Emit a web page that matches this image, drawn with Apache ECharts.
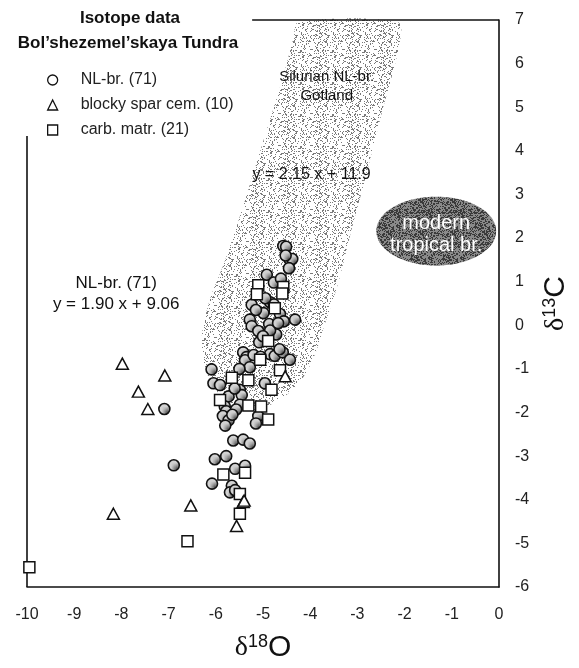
<!DOCTYPE html>
<html><head><meta charset="utf-8">
<script src="https://cdn.jsdelivr.net/npm/echarts@6/dist/echarts.min.js"></script>
<style>html,body{margin:0;padding:0;background:#fff}#c{width:579px;height:668px}</style>
</head><body><div id="c"></div>
<script>
// ---------------- data ----------------
const xTickValues = [-10,-9,-8,-7,-6,-5,-4,-3,-2,-1,0];
const yTickValues = [-6,-5,-4,-3,-2,-1,0,1,2,3,4,5,6,7];

const nlBr = [
  [-4.57,1.82],[-4.51,1.80],[-4.43,1.50],[-4.38,1.52],[-4.45,1.31],[-4.92,1.16],[-4.77,0.98],[-4.62,1.07],
  [-5.24,0.47],[-4.99,0.28],[-4.85,0.53],[-4.77,0.48],[-4.64,0.26],[-4.32,0.13],[-4.56,0.09],[-5.28,0.13],
  [-5.24,-0.02],[-5.10,-0.13],[-4.87,0.03],[-4.72,-0.21],[-4.85,-0.12],[-5.08,-0.39],[-5.42,-0.62],[-5.35,-0.73],
  [-5.38,-0.80],[-4.85,-0.66],[-4.75,-0.70],[-4.58,-0.62],[-4.43,-0.79],[-5.28,-0.96],[-5.50,-1.00],[-6.09,-1.01],
  [-6.05,-1.33],[-5.91,-1.37],[-4.96,-1.33],[-5.49,-1.48],[-5.45,-1.60],[-5.73,-1.63],[-5.81,-1.86],[-5.78,-1.97],
  [-5.49,-1.82],[-5.57,-1.93],[-5.10,-2.08],[-5.75,-2.12],[-5.85,-2.08],[-5.73,-2.18],[-5.80,-2.30],[-5.15,-2.25],
  [-5.63,-2.64],[-5.42,-2.62],[-5.28,-2.71],[-6.02,-3.07],[-5.78,-3.00],[-5.59,-3.29],[-5.38,-3.22],[-6.08,-3.63],
  [-5.66,-3.68],[-5.70,-3.83],[-5.59,-3.78],[-7.09,-1.92],[-6.89,-3.21],[-4.95,0.62],[-5.15,0.35],[-4.68,0.05],
  [-5.00,-0.25],[-4.65,-0.55],[-5.20,-0.68],[-5.05,-0.72],[-4.52,1.60],[-5.60,-1.45],[-5.65,-2.05]
];
const blockySpar = [
  [-7.98,-0.88],[-7.08,-1.15],[-7.64,-1.52],[-7.44,-1.92],[-8.17,-4.32],
  [-6.53,-4.13],[-5.42,-4.05],[-5.56,-4.60],[-4.53,-1.17],[-5.40,-4.02]
];
const carbMatr = [
  [-5.10,0.92],[-4.57,0.88],[-5.13,0.71],[-4.59,0.73],[-4.75,0.39],[-4.89,-0.36],[-5.06,-0.79],
  [-4.64,-1.03],[-5.66,-1.20],[-5.31,-1.26],[-4.82,-1.48],[-5.91,-1.71],[-5.31,-1.84],[-5.04,-1.86],
  [-4.89,-2.16],[-5.84,-3.42],[-5.38,-3.38],[-5.49,-3.87],[-5.49,-4.32],[-6.60,-4.95],[-9.95,-5.55]
];
// Silurian NL-brachiopod field (Gotland), outline in data units
const silurianField = [
  [-4.25,6.95],[-2.15,6.95],[-2.1,6.5],[-2.5,4.8],[-2.85,3.3],[-3.1,2.3],[-3.4,1.0],[-3.7,0],
  [-3.95,-0.8],[-4.3,-1.4],[-4.8,-1.8],[-5.3,-1.95],[-5.8,-1.7],[-6.15,-1.2],[-6.3,-0.4],
  [-6.15,0.5],[-5.8,1.5],[-5.4,2.8],[-5.0,4.2],[-4.6,5.6],[-4.35,6.6]
];
// modern tropical brachiopod field: centre and half-axes in data units
const tropicalCenter = [-1.33, 2.16];
const tropicalRadii = [1.27, 0.79];
// partial frame lines
const topFrame = [[-5.23,7],[0,7]];
const leftFrame = [[-10,4.34],[-10,-6]];

const legendNames = ['NL-br. (71)','blocky spar cem. (10)','carb. matr. (21)'];
const annotations = [
  {text:'Silurian NL-br.', at:[-3.65,5.69], size:15, color:'#111'},
  {text:'Gotland', at:[-3.65,5.27], size:15, color:'#111'},
  {text:'y = 2.15 x + 11.9', at:[-3.97,3.46], size:16, color:'#111'},
  {text:'NL-br. (71)', at:[-8.11,0.96], size:17, color:'#111'},
  {text:'y = 1.90 x + 9.06', at:[-8.11,0.47], size:17, color:'#111'},
  {text:'modern', at:[-1.33,2.34], size:20, color:'#fff'},
  {text:'tropical br.', at:[-1.33,1.82], size:20, color:'#fff'}
];

// ---------------- styles ----------------
function hash2(i, j){
  let h = (Math.imul(i, 374761393) + Math.imul(j, 668265263)) | 0;
  h = Math.imul(h ^ (h >>> 13), 1274126177);
  h = h ^ (h >>> 16);
  return (h >>> 0) % 1000;
}
function stipple(size, bg, dot, frac){
  const c = document.createElement('canvas'); c.width = size; c.height = size;
  const g = c.getContext('2d'); g.fillStyle = bg; g.fillRect(0,0,size,size);
  g.fillStyle = dot;
  for (let i = 0; i < size; i++) for (let j = 0; j < size; j++) {
    if (hash2(i, j) < frac * 1000) g.fillRect(i, j, 1, 1);
  }
  return {image: c, repeat: 'repeat'};
}
const lightStipple = stipple(32, '#ffffff', '#7a7a7a', 0.22);
const darkStipple = stipple(32, '#8a8a8a', '#3a3a3a', 0.45);
const circleFill = stipple(16, '#d2d2d2', '#5a5a5a', 0.3);

const chart = echarts.init(document.getElementById('c'), null, {renderer:'canvas'});
const FONT = 'Liberation Sans, Arial, Helvetica, sans-serif';
const nameRich = {
  d:{fontFamily:'Liberation Serif, DejaVu Serif, serif', fontSize:28, color:'#111'},
  s:{fontFamily:FONT, fontSize:18, color:'#111', verticalAlign:'top', padding:[0,0,10,0]},
  o:{fontFamily:FONT, fontSize:30, color:'#111'}
};

const option = {
  backgroundColor:'#fff',
  animation:false,
  textStyle:{fontFamily:FONT},
  grid:{left:27, right:80, top:20, bottom:71, containLabel:false},
  xAxis:{
    type:'value', min:-10, max:0, interval:1,
    axisLine:{show:true, onZero:false, lineStyle:{color:'#111', width:1.6}},
    axisTick:{show:false}, splitLine:{show:false},
    axisLabel:{fontSize:16, color:'#222', margin:20, fontFamily:FONT,
      formatter:v => xTickValues.includes(v) ? String(v) : ''},
    name:'{d|δ}{s|18}{o|O}', nameLocation:'middle', nameGap:46,
    nameTextStyle:{rich:nameRich}
  },
  yAxis:{
    type:'value', min:-6, max:7, interval:1, position:'right',
    axisLine:{show:true, onZero:false, lineStyle:{color:'#111', width:1.6}},
    axisTick:{show:false}, splitLine:{show:false},
    axisLabel:{fontSize:16, color:'#222', margin:16, fontFamily:FONT,
      formatter:v => yTickValues.includes(v) ? String(v) : ''},
    name:'{d|δ}{s|13}{o|C}', nameLocation:'middle', nameGap:42, nameRotate:90,
    nameTextStyle:{rich:nameRich}
  },
  legend:{
    orient:'vertical', left:42, top:67, itemWidth:10, itemHeight:10, itemGap:9,
    textStyle:{fontSize:16, color:'#222', fontFamily:FONT, padding:[0,0,0,18]},
    data:[
      {name:legendNames[0], icon:'circle', itemStyle:{color:'#fff', borderColor:'#111', borderWidth:1.3}},
      {name:legendNames[1], icon:'triangle', itemStyle:{color:'#fff', borderColor:'#111', borderWidth:1.3}},
      {name:legendNames[2], icon:'rect', itemStyle:{color:'#fff', borderColor:'#111', borderWidth:1.3}}
    ],
    selectedMode:false
  },
  graphic:[
    {type:'text', x:130, y:18, style:{text:'Isotope data', font:'bold 17px ' + FONT, fill:'#111', textAlign:'center', textVerticalAlign:'middle'}},
    {type:'text', x:128, y:43, style:{text:'Bol\u2019shezemel\u2019skaya Tundra', font:'bold 17px ' + FONT, fill:'#111', textAlign:'center', textVerticalAlign:'middle'}}
  ],
  series:[
    {
      type:'custom', name:'silurian', silent:true, z:1,
      data:[0],
      renderItem:(params, api) => ({
        type:'polygon',
        shape:{points: silurianField.map(p => api.coord(p)), smooth:0.35},
        style:{fill: lightStipple, stroke:null}
      })
    },
    {
      type:'custom', name:'tropical', silent:true, z:1,
      data:[0],
      renderItem:(params, api) => {
        const c = api.coord(tropicalCenter);
        const rx = api.coord([tropicalCenter[0]+tropicalRadii[0], tropicalCenter[1]])[0] - c[0];
        const ry = c[1] - api.coord([tropicalCenter[0], tropicalCenter[1]+tropicalRadii[1]])[1];
        const pts = [];
        for (let i = 0; i < 72; i++) { const a = i/72*Math.PI*2; pts.push([c[0]+rx*Math.cos(a), c[1]+ry*Math.sin(a)]); }
        return {type:'polygon', shape:{points:pts}, style:{fill: darkStipple, stroke:null}};
      }
    },
    {
      type:'line', name:'frameTop', data:topFrame, symbol:'none', silent:true, clip:false,
      lineStyle:{color:'#111', width:1.6}, z:3
    },
    {
      type:'line', name:'frameLeft', data:leftFrame, symbol:'none', silent:true, clip:false,
      lineStyle:{color:'#111', width:1.6}, z:3
    },
    {
      type:'scatter', name:legendNames[0], data:nlBr, symbol:'circle', symbolSize:11, z:5,
      itemStyle:{color:circleFill, borderColor:'#111', borderWidth:1.6, opacity:1}
    },
    {
      type:'scatter', name:legendNames[2], data:carbMatr, symbol:'rect', symbolSize:11, z:6,
      itemStyle:{color:'#fff', borderColor:'#111', borderWidth:1.5, opacity:1}
    },
    {
      type:'scatter', name:legendNames[1], data:blockySpar, symbol:'triangle', symbolSize:[12,11], z:7,
      itemStyle:{color:'#fff', borderColor:'#111', borderWidth:1.5, opacity:1}
    },
    {
      type:'custom', name:'annotations', silent:true, z:8,
      data: annotations.map((a,i) => i),
      renderItem:(params, api) => {
        const a = annotations[params.dataIndex];
        const p = api.coord(a.at);
        return {type:'text', x:p[0], y:p[1], style:{text:a.text, fill:a.color,
          font:'normal ' + a.size + 'px ' + FONT, textAlign:'center', textVerticalAlign:'middle'}};
      }
    }
  ]
};
chart.setOption(option);
</script>
</body></html>
